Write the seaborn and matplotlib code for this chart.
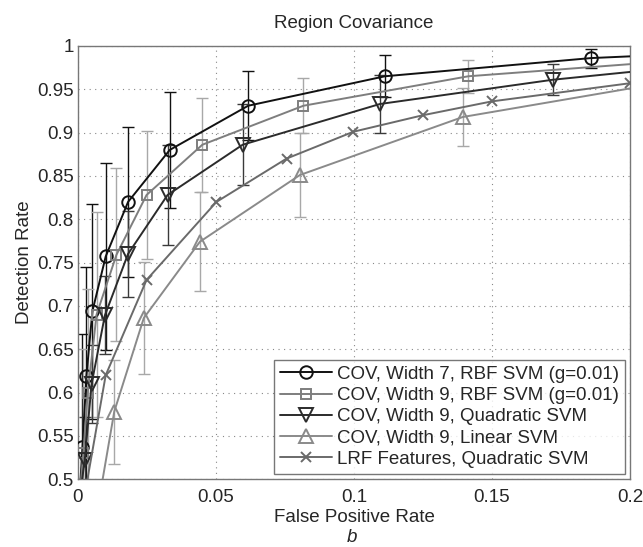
import numpy as np
import pandas as pd
import seaborn as sns
import matplotlib.pyplot as plt

# values (first/last entries without error are where the line meets the axes)
labels = ['COV, Width 7, RBF SVM (g=0.01)', 'COV, Width 9, RBF SVM (g=0.01)',
          'COV, Width 9, Quadratic SVM', 'COV, Width 9, Linear SVM',
          'LRF Features, Quadratic SVM']

cov7_rbf_x = [0.0010, 0.0017, 0.0031, 0.0053, 0.0101, 0.0182, 0.0333, 0.0617, 0.1112, 0.1858, 0.2]
cov7_rbf_y = [0.500, 0.537, 0.619, 0.694, 0.757, 0.820, 0.880, 0.931, 0.965, 0.986, 0.988]
cov7_rbf_err = [np.nan, 0.130, 0.126, 0.124, 0.108, 0.087, 0.067, 0.040, 0.024, 0.011, np.nan]

cov9_rbf_x = [0.0012, 0.0020, 0.0036, 0.0068, 0.0140, 0.0249, 0.0451, 0.0817, 0.1414, 0.2]
cov9_rbf_y = [0.500, 0.530, 0.600, 0.690, 0.759, 0.828, 0.886, 0.931, 0.965, 0.979]
cov9_rbf_err = [np.nan, 0.120, 0.120, 0.118, 0.100, 0.074, 0.054, 0.032, 0.019, np.nan]

cov9_quad_x = [0.0016, 0.0025, 0.0050, 0.0098, 0.0182, 0.0325, 0.0597, 0.1094, 0.1720, 0.2]
cov9_quad_y = [0.500, 0.522, 0.610, 0.689, 0.760, 0.828, 0.886, 0.933, 0.961, 0.970]
cov9_quad_err = [np.nan, 0.050, 0.045, 0.045, 0.050, 0.058, 0.047, 0.033, 0.018, np.nan]

cov9_lin_x = [0.0090, 0.0132, 0.0239, 0.0442, 0.0804, 0.1394, 0.2]
cov9_lin_y = [0.500, 0.578, 0.686, 0.774, 0.851, 0.918, 0.951]
cov9_lin_err = [np.nan, 0.060, 0.065, 0.057, 0.048, 0.033, np.nan]

lrf_x = [0.0035, 0.0101, 0.0249, 0.0502, 0.0756, 0.0998, 0.1249, 0.1499, 0.2]
lrf_y = [0.500, 0.620, 0.730, 0.820, 0.870, 0.901, 0.920, 0.936, 0.957]
lrf_marked = [False, True, True, True, True, True, True, True, True]

sns.set_style("white")
plt.rcParams['font.family'] = ['Liberation Sans', 'DejaVu Sans']
fs = 13.5

fig = plt.figure(figsize=(6.43, 5.47), dpi=100)
ax = fig.add_axes([0.121, 0.124, 0.859, 0.792])

series = [
    (cov7_rbf_x, cov7_rbf_y, cov7_rbf_err, 'o', 9, '#111111', '#111111'),
    (cov9_rbf_x, cov9_rbf_y, cov9_rbf_err, 's', 7, '#7e7e7e', '#a8a8a8'),
    (cov9_quad_x, cov9_quad_y, cov9_quad_err, 'v', 10, '#2b2b2b', '#3a3a3a'),
    (cov9_lin_x, cov9_lin_y, cov9_lin_err, '^', 10, '#8a8a8a', '#a8a8a8'),
    (lrf_x, lrf_y, None, 'x', 7, '#6a6a6a', None),
]

for (xs, ys, err, mk, ms, col, ecol), lab in zip(series, labels):
    df = pd.DataFrame({'x': xs, 'y': ys})
    if err is not None:
        keep = [i for i, e in enumerate(err) if not np.isnan(e)]
    else:
        keep = [i for i, m in enumerate(lrf_marked) if m]
    sns.lineplot(data=df, x='x', y='y', ax=ax, color=col, linewidth=1.4,
                 marker=mk, markersize=ms, markevery=keep, mfc='none',
                 mec=col, markeredgewidth=1.4, sort=False, label=lab, zorder=3)
    if err is not None:
        sub = df.iloc[keep]
        ax.errorbar(sub['x'], sub['y'], yerr=np.array(err)[keep], fmt='none',
                    ecolor=ecol, elinewidth=1.0, capsize=4, capthick=1.0, zorder=2)

ax.set_xlim(0, 0.2)
ax.set_ylim(0.5, 1)
ax.set_xticks([0, 0.05, 0.1, 0.15, 0.2])
ax.set_xticklabels(['0', '0.05', '0.1', '0.15', '0.2'])
ax.set_yticks(np.arange(0.5, 1.001, 0.05))
ax.set_yticklabels(['0.5', '0.55', '0.6', '0.65', '0.7', '0.75', '0.8',
                    '0.85', '0.9', '0.95', '1'])
ax.tick_params(direction='in', length=4, labelsize=fs, color='#555555', pad=3)
ax.tick_params(axis='x', pad=7)
ax.grid(True, linestyle=(0, (1, 4)), color='#888888', linewidth=0.8)
for s in ax.spines.values():
    s.set_color('#777777')
    s.set_linewidth(1.0)

ax.set_title('Region Covariance', fontsize=fs, pad=13)
ax.set_xlabel('False Positive Rate', fontsize=fs, labelpad=2)
ax.set_ylabel('Detection Rate', fontsize=fs, labelpad=3)
fig.text(0.548, 0.01, 'b', fontsize=fs, style='italic', ha='center')

leg = ax.legend(loc='lower right', fontsize=fs, frameon=True, fancybox=False,
                handlelength=2.8, borderpad=0.3, labelspacing=0.22,
                handletextpad=0.25, borderaxespad=0.3)
leg.get_frame().set_edgecolor('#555555')
leg.get_frame().set_linewidth(1.0)

fig.savefig('out.png', dpi=100)
